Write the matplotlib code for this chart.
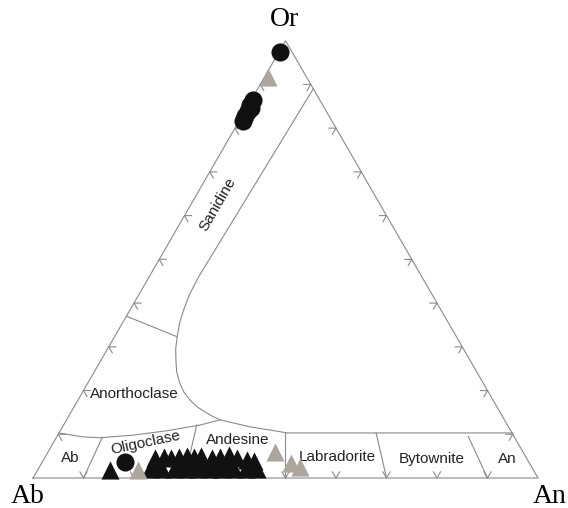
import matplotlib.pyplot as plt
import numpy as np

S = np.sqrt(3) / 2


def tern(an, orr):
    # An / Or in percent -> cartesian point (Ab at origin, An at (1, 0))
    an = np.asarray(an, dtype=float) / 100
    orr = np.asarray(orr, dtype=float) / 100
    return an + orr / 2, orr * S


# --- feldspar field boundaries (An %, Or %) ---
solvus_an = [11, 9.8, 10.0, 10.6, 11.3, 12.4, 13.5, 14.8, 16.3, 18.2, 20.1, 22.2,
             24.3, 26.5, 28.5, 30.4]
solvus_or = [89, 46, 42, 38.5, 35.5, 32.3, 29.5, 27.0, 24.3, 21.7, 19.6, 17.8,
             16.3, 15.1, 14.1, 13.3]

san_ano_an = [0, 12.4]
san_ano_or = [37, 32.3]

plag_top_an = [0, 5.2, 8.7, 14.9, 21.1, 27.0, 30.4, 37.1, 45.3, 67.5, 89.9]
plag_top_or = [10.3, 9.4, 9.2, 9.8, 10.8, 12.1, 13.3, 11.7, 10.3, 10.3, 10.3]

divider_ratio = [0.1, 0.3, 0.5, 0.7, 0.9]
divider_or_top = [9.3, 12.1, 10.3, 10.3, 9.5]

# --- analyses (An %, Or %) ---
circ_an = [0.2, 0.3, 0.4, 0.5, 0.6, 0.7, 1.0, 16.4, 28.0, 31.0, 34.8]
circ_or = [97.5, 86.5, 85.2, 84.0, 82.8, 81.7, 84.5, 3.7, 2.3, 2.5, 2.1]

tri_an = [14.3,
          21.9, 23.5, 25.0, 26.6, 28.0, 29.4, 30.8, 33.2, 34.7, 36.3, 38.1, 40.3, 41.9,
          23.0, 27.5, 32.0, 36.5, 41.0,
          22.1, 24.5, 26.9, 29.3, 31.6, 34.0, 36.4, 38.8, 41.2, 43.3]
tri_or = [1.8,
          4.6, 4.8, 4.6, 4.8, 5.0, 4.8, 5.0, 4.6, 4.8, 5.2, 4.6, 4.1, 3.9,
          3.3, 3.3, 3.3, 3.3, 3.3,
          2.1, 2.1, 2.1, 2.1, 2.1, 2.1, 2.1, 2.1, 2.1, 2.1]

grey_an = [0.6, 19.9, 44.9, 49.4, 51.6]
grey_or = [91.8, 1.8, 6.0, 3.4, 2.5]

fields = ['Sanidine', 'Anorthoclase', 'Ab', 'Oligoclase', 'Andesine',
          'Labradorite', 'Bytownite', 'An']
field_an = [5.4, 10.4, 5.0, 18.2, 36.2, 57.8, 76.8, 91.7]
field_or = [62.5, 19.2, 4.6, 8.0, 8.7, 4.8, 4.35, 4.35]
field_rot = [60, 0, 0, 12, 0, 0, 0, 0]

fig = plt.figure(figsize=(5.68, 5.08), dpi=100)
ax = fig.add_axes([0, 0, 1, 1])
ax.set_xlim(-33 / 505, 535 / 505)
ax.set_ylim(-30 / 505, 478 / 505)
ax.set_aspect('equal')
ax.axis('off')

lc = '#8a8a8a'
lw = 0.8

# outer triangle
ax.plot([0, 1, 0.5, 0], [0, 0, S, 0], color=lc, lw=lw)

# tick chevrons every 10 %
L = 0.014
for f in np.arange(0.1, 0.91, 0.1):
    # bottom edge
    x0, y0 = f, 0
    ax.plot([x0 - 0.5 * L, x0, x0 + 0.5 * L], [y0 + S * L, y0, y0 + S * L], color=lc, lw=lw)
    # left edge (Ab-Or)
    x0, y0 = f / 2, f * S
    ax.plot([x0 + L, x0, x0 + 0.5 * L], [y0, y0, y0 - S * L], color=lc, lw=lw)
    # right edge (An-Or)
    x0, y0 = 1 - f / 2, f * S
    ax.plot([x0 - L, x0, x0 - 0.5 * L], [y0, y0, y0 - S * L], color=lc, lw=lw)

# field boundaries
ax.plot(*tern(solvus_an, solvus_or), color=lc, lw=lw)
ax.plot(*tern(san_ano_an, san_ano_or), color=lc, lw=lw)
ax.plot(*tern(plag_top_an, plag_top_or), color=lc, lw=lw)
for r, ot in zip(divider_ratio, divider_or_top):
    ax.plot(*tern([r * 100, r * (100 - ot)], [0, ot]), color=lc, lw=lw)

# field names
for name, a, o, rot in zip(fields, field_an, field_or, field_rot):
    x, y = tern(a, o)
    ax.text(x, y, name, ha='center', va='center', rotation=rot,
            fontsize=11, family='Liberation Sans', color='#222222')

# corner labels
serif = dict(fontsize=20, family='Liberation Serif', ha='center', va='center')
ax.text(0.499, 0.907, 'Or', **serif)
ax.text(-0.0099, -0.0376, 'Ab', **serif)
ax.text(1.0238, -0.0376, 'An', **serif)

# data points
ax.scatter(*tern(tri_an, tri_or), marker='^', s=170, color='#111111', lw=0, zorder=3)
ax.scatter(*tern(circ_an, circ_or), marker='o', s=170, color='#111111', lw=0, zorder=4)
ax.scatter(*tern(grey_an, grey_or), marker='^', s=170, color='#aca69f', lw=0, zorder=5)

fig.savefig('out.png', dpi=100)
